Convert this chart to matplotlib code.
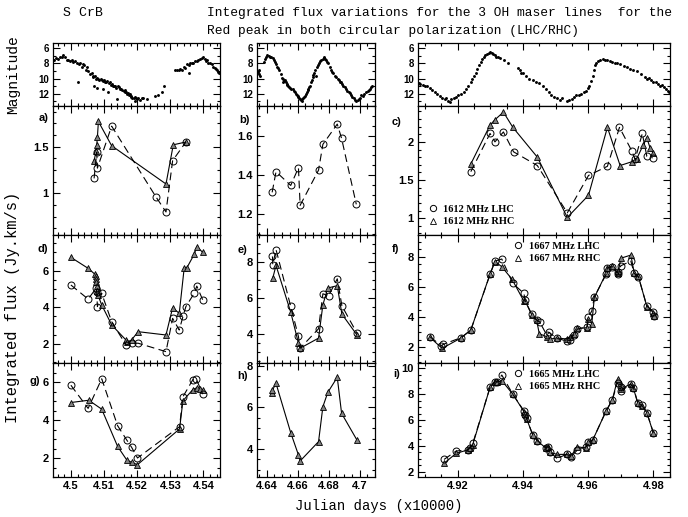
import numpy as np
import matplotlib
matplotlib.use('Agg')
import matplotlib.pyplot as plt
from matplotlib.ticker import MultipleLocator, FuncFormatter
from matplotlib.lines import Line2D

plt.rcParams['font.family'] = 'Liberation Sans'
plt.rcParams['font.weight'] = 'bold'

# ---------------- optical light curve (magnitude) ----------------
mag1 = [(4.4950, 7.5), (4.4956, 7.3), (4.4962, 7.4), (4.4967, 7.2), (4.4972, 7.1), (4.4977, 6.9),
        (4.4982, 7.1), (4.4987, 7.6), (4.4992, 7.5), (4.4997, 7.7), (4.5002, 7.6), (4.5007, 7.8),
        (4.5012, 7.7), (4.5018, 7.9), (4.5021, 10.4), (4.5023, 8.1), (4.5028, 8.0), (4.5033, 8.4),
        (4.5037, 8.1), (4.5041, 8.2), (4.5045, 8.8), (4.5049, 8.5), (4.5053, 9.0), (4.5058, 9.4),
        (4.5063, 9.3), (4.5066, 9.6), (4.5068, 9.8), (4.5071, 10.9), (4.5073, 9.7), (4.5076, 10.0),
        (4.5078, 11.2), (4.5080, 9.9), (4.5083, 10.0), (4.5086, 10.2), (4.5090, 10.1), (4.5093, 10.2),
        (4.5096, 10.3), (4.5098, 11.3), (4.5100, 10.2), (4.5103, 10.4), (4.5106, 10.5), (4.5110, 10.3),
        (4.5113, 11.7), (4.5116, 10.6), (4.5118, 10.4), (4.5121, 10.8), (4.5123, 10.7), (4.5126, 10.9),
        (4.5130, 11.0), (4.5133, 10.9), (4.5136, 11.2), (4.5138, 12.7), (4.5141, 11.0), (4.5144, 11.1),
        (4.5148, 11.3), (4.5152, 11.4), (4.5155, 11.5), (4.5159, 11.6), (4.5162, 11.5), (4.5164, 11.8),
        (4.5167, 11.7), (4.5169, 12.0), (4.5172, 11.9), (4.5174, 12.2), (4.5177, 12.0), (4.5180, 12.4),
        (4.5182, 12.3), (4.5185, 12.5), (4.5189, 12.6), (4.5192, 12.4), (4.5194, 12.9), (4.5197, 12.6),
        (4.5199, 12.7), (4.5204, 12.5), (4.5209, 12.8), (4.5214, 12.6), (4.5219, 12.6), (4.5229, 12.7),
        (4.5254, 12.3), (4.5264, 12.1), (4.5274, 11.7), (4.5282, 10.9), (4.5315, 8.9), (4.5320, 8.8),
        (4.5325, 8.8), (4.5330, 8.7), (4.5335, 8.8), (4.5340, 8.5), (4.5345, 8.6), (4.5350, 8.1),
        (4.5355, 8.2), (4.5357, 9.2), (4.5360, 8.0), (4.5365, 7.9), (4.5370, 7.9), (4.5375, 7.7),
        (4.5380, 7.7), (4.5385, 7.5), (4.5390, 7.4), (4.5395, 7.3), (4.5400, 7.2), (4.5404, 7.4),
        (4.5407, 7.7), (4.5411, 7.6), (4.5415, 7.9), (4.5420, 8.0), (4.5426, 8.1), (4.5430, 8.4),
        (4.5434, 8.6), (4.5438, 8.7), (4.5441, 8.9), (4.5444, 9.1), (4.5446, 9.3)]

mag2 = [(4.6346, 9.1), (4.6349, 9.4), (4.6352, 8.8), (4.6356, 9.6), (4.6380, 7.8), (4.6389, 7.4),
        (4.6396, 7.1), (4.6404, 6.9), (4.6412, 7.0), (4.6421, 7.1), (4.6430, 7.2), (4.6438, 7.3),
        (4.6446, 7.6), (4.6454, 7.8), (4.6460, 8.1), (4.6464, 8.4), (4.6472, 8.6), (4.6482, 8.9),
        (4.6490, 9.4), (4.6497, 9.9), (4.6502, 10.1), (4.6508, 10.4), (4.6513, 10.3), (4.6519, 10.2),
        (4.6524, 10.5), (4.6529, 10.7), (4.6534, 10.8), (4.6540, 10.9), (4.6545, 11.1), (4.6551, 11.2),
        (4.6560, 11.4), (4.6568, 11.3), (4.6575, 11.6), (4.6583, 11.8), (4.6588, 12.0), (4.6594, 12.1),
        (4.6600, 12.3), (4.6605, 12.4), (4.6610, 12.6), (4.6615, 12.7), (4.6620, 12.8), (4.6626, 12.9),
        (4.6631, 12.7), (4.6637, 12.6), (4.6642, 12.4), (4.6648, 12.3), (4.6653, 12.0), (4.6659, 11.8),
        (4.6664, 11.5), (4.6669, 11.3), (4.6675, 11.1), (4.6680, 10.9), (4.6686, 10.5), (4.6691, 10.2),
        (4.6697, 9.8), (4.6702, 9.5), (4.6708, 9.2), (4.6713, 8.9), (4.6716, 9.6), (4.6722, 8.5),
        (4.6729, 8.2), (4.6736, 7.9), (4.6744, 7.7), (4.6752, 7.5), (4.6763, 7.4), (4.6768, 7.3),
        (4.6773, 7.2), (4.6778, 7.4), (4.6784, 7.6), (4.6790, 7.8), (4.6799, 8.0), (4.6808, 8.5),
        (4.6816, 8.9), (4.6824, 9.1), (4.6831, 9.3), (4.6840, 9.6), (4.6849, 9.8), (4.6858, 10.0),
        (4.6866, 10.2), (4.6874, 10.4), (4.6881, 10.5), (4.6888, 10.7), (4.6896, 10.9), (4.6905, 11.1),
        (4.6914, 11.3), (4.6922, 11.6), (4.6931, 11.8), (4.6938, 11.9), (4.6946, 12.1), (4.6954, 12.4),
        (4.6962, 12.6), (4.6970, 12.8), (4.6979, 12.9), (4.6988, 12.8), (4.6996, 12.7), (4.7004, 12.5),
        (4.7011, 12.2), (4.7020, 12.3), (4.7032, 12.0), (4.7043, 11.8), (4.7054, 11.6), (4.7062, 11.5),
        (4.7069, 11.3), (4.7076, 11.1), (4.7082, 10.9)]

mag3 = [(4.9080, 10.6), (4.9085, 10.7), (4.9092, 10.8), (4.9100, 10.9), (4.9107, 11.0), (4.9115, 11.2),
        (4.9122, 11.5), (4.9130, 11.8), (4.9137, 12.0), (4.9145, 12.3), (4.9152, 12.5), (4.9160, 12.7),
        (4.9165, 12.6), (4.9170, 12.9), (4.9175, 13.1), (4.9180, 12.7), (4.9188, 12.6), (4.9195, 12.4),
        (4.9202, 12.2), (4.9210, 12.0), (4.9218, 11.7), (4.9225, 11.3), (4.9232, 10.9), (4.9240, 10.4),
        (4.9245, 10.0), (4.9250, 9.6), (4.9255, 9.2), (4.9260, 8.7), (4.9265, 8.2), (4.9270, 7.8),
        (4.9275, 7.4), (4.9280, 7.1), (4.9285, 6.9), (4.9290, 6.8), (4.9295, 6.6), (4.9300, 6.5),
        (4.9304, 6.6), (4.9308, 6.8), (4.9313, 6.9), (4.9318, 7.1), (4.9324, 7.2), (4.9330, 7.3),
        (4.9342, 7.6), (4.9355, 8.0), (4.9385, 8.6), (4.9390, 8.9), (4.9395, 9.2), (4.9400, 9.3),
        (4.9410, 9.7), (4.9420, 10.0), (4.9430, 10.2), (4.9440, 10.4), (4.9450, 10.6), (4.9460, 10.9),
        (4.9470, 11.3), (4.9480, 11.8), (4.9487, 12.1), (4.9494, 12.4), (4.9504, 12.6), (4.9514, 12.8),
        (4.9520, 12.5), (4.9534, 12.9), (4.9540, 12.8), (4.9549, 12.7), (4.9556, 12.4), (4.9564, 12.2),
        (4.9572, 12.1), (4.9579, 12.0), (4.9587, 11.8), (4.9594, 11.6), (4.9600, 11.2), (4.9604, 10.9),
        (4.9609, 10.3), (4.9614, 9.6), (4.9618, 8.9), (4.9621, 8.2), (4.9625, 7.9), (4.9629, 7.7),
        (4.9636, 7.5), (4.9644, 7.4), (4.9651, 7.5), (4.9659, 7.6), (4.9666, 7.7), (4.9674, 7.8),
        (4.9681, 7.9), (4.9689, 8.0), (4.9699, 8.1), (4.9709, 8.3), (4.9719, 8.5), (4.9729, 8.7),
        (4.9739, 8.8), (4.9749, 9.0), (4.9762, 9.4), (4.9774, 9.8), (4.9780, 10.1), (4.9787, 9.9),
        (4.9794, 10.2), (4.9800, 10.5), (4.9807, 10.4), (4.9814, 10.7), (4.9820, 10.9), (4.9827, 10.8),
        (4.9834, 11.1), (4.9840, 11.3), (4.9845, 11.6), (4.9849, 11.8)]

# ---------------- 1612 MHz ----------------
a_lhc_jd = [4.5070, 4.5078, 4.5080, 4.5123, 4.5257, 4.5287, 4.5307, 4.5347]
a_lhc = [1.16, 1.44, 1.27, 1.72, 0.96, 0.80, 1.35, 1.55]
a_rhc_jd = [4.5070, 4.5076, 4.5078, 4.5080, 4.5083, 4.5123, 4.5287, 4.5309, 4.5347]
a_rhc = [1.35, 1.45, 1.52, 1.60, 1.77, 1.51, 1.10, 1.52, 1.55]

b_lhc_jd = [4.6435, 4.6460, 4.6555, 4.6605, 4.6616, 4.6735, 4.6763, 4.6856, 4.6884, 4.6979]
b_lhc = [1.312, 1.417, 1.347, 1.437, 1.246, 1.425, 1.556, 1.659, 1.586, 1.251]

c_lhc_jd = [4.9240, 4.9299, 4.9314, 4.9340, 4.9371, 4.9444, 4.9536, 4.9601, 4.9659, 4.9696,
            4.9734, 4.9744, 4.9766, 4.9780, 4.9798]
c_lhc = [1.61, 2.11, 2.00, 2.13, 1.87, 1.69, 1.07, 1.56, 1.68, 2.19, 1.88, 1.77, 2.11, 1.81, 1.79]
c_rhc_jd = [4.9240, 4.9299, 4.9314, 4.9340, 4.9369, 4.9444, 4.9536, 4.9601, 4.9659, 4.9698,
            4.9734, 4.9749, 4.9769, 4.9780, 4.9790, 4.9798]
c_rhc = [1.71, 2.22, 2.29, 2.39, 2.19, 1.80, 1.01, 1.30, 2.19, 1.69, 1.74, 1.78, 1.96, 2.05, 1.92, 1.86]

# ---------------- 1667 MHz ----------------
d_lhc_jd = [4.5000, 4.5052, 4.5076, 4.5078, 4.5080, 4.5093, 4.5123, 4.5166, 4.5183, 4.5203,
            4.5287, 4.5307, 4.5327, 4.5339, 4.5347, 4.5372, 4.5380, 4.5398]
d_lhc = [5.22, 4.45, 5.04, 4.85, 4.04, 4.76, 3.22, 1.95, 2.04, 2.04, 1.58, 3.40, 2.76, 3.55, 4.04,
         4.76, 5.16, 4.40]
d_rhc_jd = [4.5000, 4.5052, 4.5073, 4.5075, 4.5076, 4.5077, 4.5078, 4.5079, 4.5081, 4.5093,
            4.5123, 4.5166, 4.5170, 4.5183, 4.5203, 4.5287, 4.5307, 4.5327, 4.5342, 4.5350,
            4.5372, 4.5380, 4.5398]
d_rhc = [6.73, 6.13, 5.80, 5.70, 5.55, 5.40, 5.15, 4.90, 4.70, 4.13, 3.04, 2.22, 2.09, 2.22, 2.67,
         2.49, 3.98, 3.67, 6.16, 6.16, 6.89, 7.31, 7.00]

e_lhc_jd = [4.6437, 4.6439, 4.6460, 4.6555, 4.6605, 4.6616, 4.6735, 4.6763, 4.6800, 4.6856,
            4.6886, 4.6983]
e_lhc = [8.31, 7.85, 8.69, 5.54, 3.87, 3.22, 4.30, 6.24, 6.13, 7.07, 5.57, 4.06]
e_rhc_jd = [4.6439, 4.6460, 4.6555, 4.6605, 4.6616, 4.6735, 4.6763, 4.6795, 4.6856, 4.6886, 4.6983]
e_rhc = [7.11, 7.81, 5.22, 3.50, 3.22, 3.78, 5.63, 6.56, 6.69, 5.11, 3.96]

f_lhc_jd = [4.9115, 4.9149, 4.9156, 4.9210, 4.9240, 4.9299, 4.9314, 4.9335, 4.9369, 4.9403,
            4.9406, 4.9427, 4.9442, 4.9452, 4.9473, 4.9480, 4.9504, 4.9534, 4.9544, 4.9555,
            4.9567, 4.9596, 4.9601, 4.9611, 4.9619, 4.9655, 4.9659, 4.9674, 4.9690, 4.9693,
            4.9700, 4.9731, 4.9741, 4.9754, 4.9780, 4.9800, 4.9801]
f_lhc = [2.70, 2.11, 2.20, 2.64, 3.14, 6.83, 7.71, 7.85, 6.23, 5.57, 5.13, 4.18, 3.81, 3.65, 2.81,
         2.99, 2.59, 2.42, 2.48, 2.81, 3.21, 3.34, 4.03, 4.40, 5.35, 6.83, 7.27, 7.34, 6.96, 6.83,
         7.40, 7.71, 6.90, 6.68, 4.73, 4.36, 4.07]
f_rhc_jd = [4.9115, 4.9152, 4.9210, 4.9240, 4.9299, 4.9314, 4.9335, 4.9366, 4.9403, 4.9406,
            4.9427, 4.9442, 4.9450, 4.9473, 4.9484, 4.9504, 4.9534, 4.9544, 4.9555, 4.9567,
            4.9596, 4.9601, 4.9611, 4.9619, 4.9655, 4.9659, 4.9674, 4.9690, 4.9693, 4.9700,
            4.9731, 4.9741, 4.9754, 4.9780, 4.9800, 4.9801]
f_rhc = [2.65, 1.93, 2.62, 3.14, 6.85, 7.68, 7.34, 6.52, 5.05, 5.10, 4.15, 3.78, 2.90, 2.70, 2.55,
         2.62, 2.55, 2.70, 2.85, 3.25, 3.30, 3.90, 3.56, 5.30, 6.90, 7.25, 7.40, 6.90, 7.05, 7.90,
         8.11, 6.95, 6.70, 4.70, 4.30, 4.05]

# ---------------- 1665 MHz ----------------
g_lhc_jd = [4.5000, 4.5052, 4.5093, 4.5141, 4.5168, 4.5183, 4.5201, 4.5328, 4.5338, 4.5368,
            4.5378, 4.5398]
g_lhc = [5.83, 4.61, 6.17, 3.70, 2.96, 2.57, 2.00, 3.65, 5.22, 6.12, 6.17, 5.36]
g_rhc_jd = [4.5000, 4.5054, 4.5093, 4.5141, 4.5168, 4.5183, 4.5201, 4.5328, 4.5338, 4.5368,
            4.5380, 4.5390, 4.5398]
g_rhc = [4.92, 5.04, 4.57, 2.61, 1.91, 1.77, 1.65, 3.53, 5.01, 5.60, 5.70, 5.65, 5.57]

h_rhc_jd = [4.6435, 4.6437, 4.6460, 4.6555, 4.6605, 4.6616, 4.6735, 4.6763, 4.6795, 4.6856,
            4.6884, 4.6983]
h_rhc = [6.70, 6.83, 7.15, 4.78, 3.71, 3.42, 4.35, 6.03, 6.72, 7.44, 5.71, 4.43]

i_lhc_jd = [4.9158, 4.9195, 4.9230, 4.9238, 4.9246, 4.9299, 4.9314, 4.9321, 4.9335, 4.9369,
            4.9403, 4.9407, 4.9411, 4.9430, 4.9444, 4.9471, 4.9478, 4.9483, 4.9504, 4.9534,
            4.9547, 4.9567, 4.9594, 4.9601, 4.9614, 4.9655, 4.9674, 4.9690, 4.9700, 4.9701,
            4.9731, 4.9739, 4.9752, 4.9764, 4.9780, 4.9800]
i_lhc = [2.95, 3.60, 3.68, 3.86, 4.19, 8.53, 8.97, 8.92, 9.48, 7.99, 6.70, 6.39, 6.13, 4.84, 4.40,
         3.86, 3.94, 3.55, 3.03, 3.34, 3.16, 3.68, 3.94, 4.32, 4.45, 6.70, 7.55, 8.89, 8.53, 8.27,
         8.76, 8.50, 7.34, 7.16, 6.57, 5.02]
i_rhc_jd = i_lhc_jd
i_rhc = [2.65, 3.42, 3.68, 3.86, 4.10, 8.53, 8.97, 8.92, 9.05, 7.99, 6.65, 6.45, 6.10, 4.84, 4.40,
         3.80, 3.90, 3.50, 3.34, 3.34, 3.20, 3.94, 3.81, 4.30, 4.45, 6.70, 7.55, 9.15, 8.70, 8.40,
         8.80, 8.45, 7.30, 7.10, 6.57, 4.98]

# ---------------- layout ----------------
W, H = 688.0, 517.0
cols = [(53, 220), (257, 375), (418, 670)]
rows = [(43, 106), (106, 235), (235, 363), (363, 477)]
xlims = [(4.4946, 4.545), (4.6337, 4.710), (4.9078, 4.9851)]
xmaj = [0.01, 0.02, 0.02]
xmin = [0.002, 0.005, 0.005]

fig = plt.figure(figsize=(6.88, 5.17), dpi=100)


def make_ax(r, c):
    x0, x1 = cols[c]
    y0, y1 = rows[r]
    ax = fig.add_axes([x0 / W, 1 - y1 / H, (x1 - x0) / W, (y1 - y0) / H])
    ax.set_xlim(*xlims[c])
    ax.xaxis.set_major_locator(MultipleLocator(xmaj[c]))
    ax.xaxis.set_minor_locator(MultipleLocator(xmin[c]))
    ax.xaxis.set_major_formatter(FuncFormatter(lambda v, p: '%g' % round(v, 3)))
    ax.yaxis.set_major_formatter(FuncFormatter(lambda v, p: '%g' % round(v, 3)))
    ax.tick_params(which='both', direction='in', top=True, right=True, width=0.8)
    ax.tick_params(which='major', length=5, labelsize=8, pad=3)
    ax.tick_params(which='minor', length=2.5)
    if r < 3:
        ax.tick_params(labelbottom=False)
    for s in ax.spines.values():
        s.set_linewidth(0.9)
    return ax


def draw_lhc(ax, jd, v):
    ax.plot(jd, v, color='k', lw=0.8, dashes=(7, 4), marker='o', ms=5,
            mfc='none', mec='k', mew=0.7)


def draw_rhc(ax, jd, v):
    ax.plot(jd, v, color='k', lw=0.8, ls='-', marker='^', ms=4.5,
            mfc='0.5', mec='k', mew=0.6)


# magnitude row
for c, m in enumerate([mag1, mag2, mag3]):
    ax = make_ax(0, c)
    jd, v = zip(*m)
    ax.plot(jd, v, 'o', ms=2.1, color='k', mew=0)
    ax.set_ylim(13.6, 5.3)
    ax.yaxis.set_major_locator(MultipleLocator(2))
    ax.yaxis.set_minor_locator(MultipleLocator(1))
    ax.tick_params(labelsize=7)

# row a/b/c
ax = make_ax(1, 0)
draw_rhc(ax, a_rhc_jd, a_rhc)
draw_lhc(ax, a_lhc_jd, a_lhc)
ax.set_ylim(0.553, 1.936)
ax.yaxis.set_major_locator(MultipleLocator(0.5))
ax.yaxis.set_minor_locator(MultipleLocator(0.125))

ax = make_ax(1, 1)
draw_lhc(ax, b_lhc_jd, b_lhc)
ax.set_ylim(1.095, 1.751)
ax.yaxis.set_major_locator(MultipleLocator(0.2))
ax.yaxis.set_minor_locator(MultipleLocator(0.05))

ax = make_ax(1, 2)
draw_rhc(ax, c_rhc_jd, c_rhc)
draw_lhc(ax, c_lhc_jd, c_lhc)
ax.set_ylim(0.78, 2.47)
ax.yaxis.set_major_locator(MultipleLocator(0.5))
ax.yaxis.set_minor_locator(MultipleLocator(0.1))
leg_c = ax


# row d/e/f
ax = make_ax(2, 0)
draw_rhc(ax, d_rhc_jd, d_rhc)
draw_lhc(ax, d_lhc_jd, d_lhc)
ax.set_ylim(0.96, 7.95)
ax.yaxis.set_major_locator(MultipleLocator(2))
ax.yaxis.set_minor_locator(MultipleLocator(0.5))

ax = make_ax(2, 1)
draw_rhc(ax, e_rhc_jd, e_rhc)
draw_lhc(ax, e_lhc_jd, e_lhc)
ax.set_ylim(2.4, 9.5)
ax.yaxis.set_major_locator(MultipleLocator(2))
ax.yaxis.set_minor_locator(MultipleLocator(0.5))

ax = make_ax(2, 2)
draw_rhc(ax, f_rhc_jd, f_rhc)
draw_lhc(ax, f_lhc_jd, f_lhc)
ax.set_ylim(0.96, 9.44)
ax.yaxis.set_major_locator(MultipleLocator(2))
ax.yaxis.set_minor_locator(MultipleLocator(0.5))
leg_f = ax

# row g/h/i
ax = make_ax(3, 0)
draw_rhc(ax, g_rhc_jd, g_rhc)
draw_lhc(ax, g_lhc_jd, g_lhc)
ax.set_ylim(1.0, 7.0)
ax.yaxis.set_major_locator(MultipleLocator(2))
ax.yaxis.set_minor_locator(MultipleLocator(0.5))

ax = make_ax(3, 1)
draw_rhc(ax, h_rhc_jd, h_rhc)
ax.set_ylim(2.65, 8.13)
ax.yaxis.set_major_locator(MultipleLocator(2))
ax.yaxis.set_minor_locator(MultipleLocator(0.5))

ax = make_ax(3, 2)
draw_rhc(ax, i_rhc_jd, i_rhc)
draw_lhc(ax, i_lhc_jd, i_lhc)
ax.set_ylim(1.59, 10.41)
ax.yaxis.set_major_locator(MultipleLocator(2))
ax.yaxis.set_minor_locator(MultipleLocator(0.5))
leg_i = ax

# legends
circ = Line2D([], [], ls='none', marker='o', ms=4.5, mfc='none', mec='k', mew=0.7)
tri = Line2D([], [], ls='none', marker='^', ms=4, mfc='none', mec='k', mew=0.6)
leg_font = {'family': 'Liberation Serif', 'weight': 'bold', 'size': 7.5}
leg_c.legend([circ, tri], ['1612 MHz LHC', '1612 MHz RHC'], loc='lower left',
             frameon=False, prop=leg_font, handlelength=1.0, handletextpad=0.5,
             labelspacing=0.3, borderaxespad=0.3, bbox_to_anchor=(0.01, 0.01))
leg_f.legend([circ, tri], ['1667 MHz LHC', '1667 MHz RHC'], loc='upper left',
             frameon=False, prop=leg_font, handlelength=1.0, handletextpad=0.5,
             labelspacing=0.3, borderaxespad=0.0, bbox_to_anchor=(0.36, 0.98))
leg_i.legend([circ, tri], ['1665 MHz LHC', '1665 MHz RHC'], loc='upper left',
             frameon=False, prop=leg_font, handlelength=1.0, handletextpad=0.5,
             labelspacing=0.3, borderaxespad=0.0, bbox_to_anchor=(0.36, 0.98))

# panel letters
letters = [('a)', 44, 118), ('b)', 244, 120), ('c)', 397, 122),
           ('d)', 43, 249), ('e)', 243, 250), ('f)', 395, 249),
           ('g)', 35, 381), ('h)', 243, 376), ('i)', 397, 374)]
for lab, px, py in letters:
    fig.text(px / W, 1 - py / H, lab, fontsize=8, ha='center', va='center')

# titles and axis labels
mono = {'family': 'Liberation Mono', 'weight': 'normal'}
fig.text(63 / W, 1 - 13 / H, 'S CrB', fontsize=9.5, ha='left', va='center', **mono)
fig.text(207 / W, 1 - 13 / H, 'Integrated flux variations for the 3 OH maser lines  for the',
         fontsize=9.3, ha='left', va='center', **mono)
fig.text(207 / W, 1 - 31 / H, 'Red peak in both circular polarization (LHC/RHC)',
         fontsize=9.3, ha='left', va='center', **mono)
fig.text(13 / W, 1 - 75 / H, 'Magnitude', fontsize=10.5, rotation=90,
         ha='center', va='center', **mono)
fig.text(13 / W, 1 - 307 / H, 'Integrated flux (Jy.km/s)', fontsize=11.2, rotation=90,
         ha='center', va='center', **mono)
fig.text(379 / W, 1 - 506 / H, 'Julian days (x10000)', fontsize=10,
         ha='center', va='center', **mono)

fig.savefig('out.png', dpi=100)
